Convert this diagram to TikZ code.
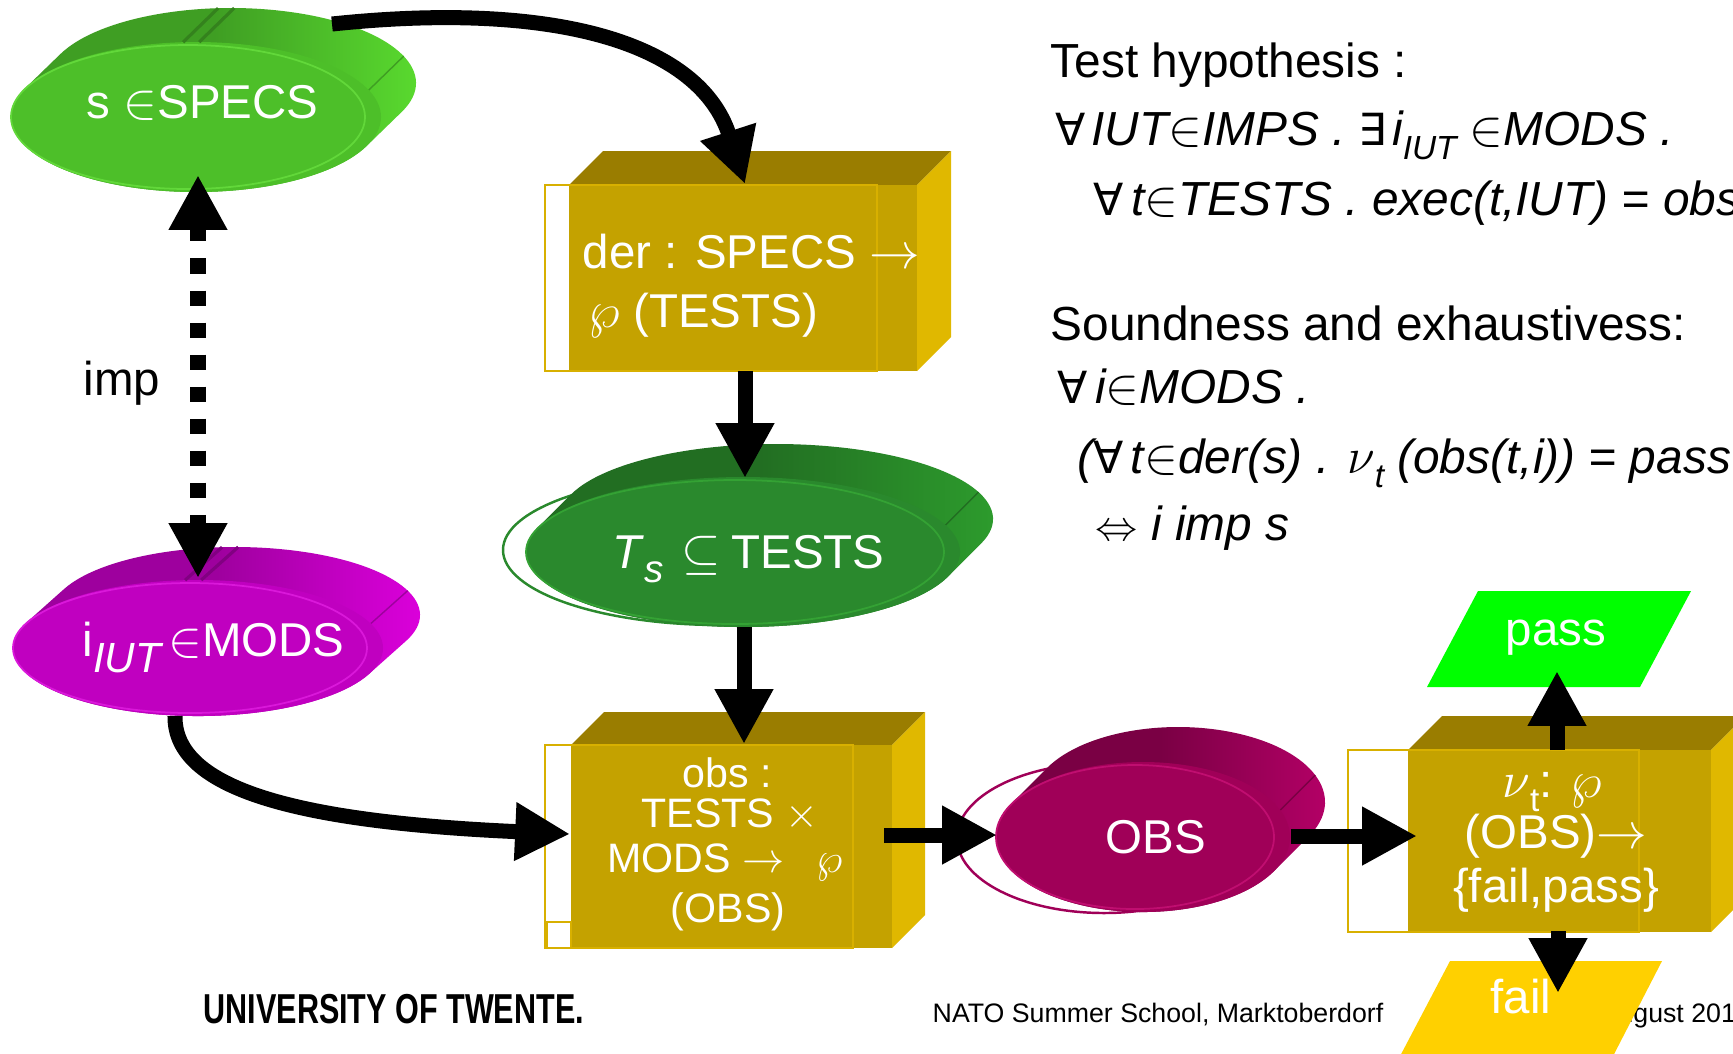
\documentclass[tikz,border=0pt]{standalone}
\usepackage{fontspec}
\setmainfont{Liberation Sans}
\newfontfamily\utfont[FakeStretch=0.73]{Liberation Sans Bold}
\newfontfamily\quant{DejaVu Sans}
\usetikzlibrary{arrows.meta}

% colours of the extruded ellipses: F front, D/L side shading, R rim line
\definecolor{specsF}{RGB}{77,191,41}
\definecolor{specsD}{RGB}{63,158,35}
\definecolor{specsL}{RGB}{92,224,48}
\definecolor{specsR}{RGB}{98,216,58}
\definecolor{testsF}{RGB}{42,137,45}
\definecolor{testsD}{RGB}{34,110,34}
\definecolor{testsL}{RGB}{46,160,46}
\definecolor{testsR}{RGB}{52,162,52}
\definecolor{modsF}{RGB}{192,0,192}
\definecolor{modsD}{RGB}{158,0,158}
\definecolor{modsL}{RGB}{226,0,226}
\definecolor{modsR}{RGB}{218,24,218}
\definecolor{obsF}{RGB}{160,0,88}
\definecolor{obsD}{RGB}{122,0,68}
\definecolor{obsL}{RGB}{186,0,106}
\definecolor{obsR}{RGB}{192,14,112}
% gold boxes
\definecolor{boxFront}{RGB}{196,162,0}
\definecolor{boxTop}{RGB}{154,125,0}
\definecolor{boxSide}{RGB}{224,184,0}
\definecolor{boxRule}{RGB}{216,176,0}
\definecolor{passGreen}{RGB}{0,255,0}
\definecolor{failYellow}{RGB}{255,208,0}

% lowered subscript in text fonts
\newcommand{\lowsub}[2][0.3em]{\raisebox{-#1}{\fontsize{9.5pt}{10pt}\selectfont #2}}
% quantifiers set in a sans face
\newcommand{\All}{{\quant\fontsize{12.6pt}{14pt}\selectfont ∀}}
\newcommand{\Ex}{{\quant\fontsize{12.6pt}{14pt}\selectfont ∃}}

% extruded ellipse: centre x, centre y, rx, ry, depth dx, depth dy, colour prefix
\newcommand{\ExtEllipse}[7]{%
  \pgfmathsetmacro\eTh{atan2((#4)*(#5),-(#3)*(#6))}%
  \pgfmathsetmacro\ePx{#1+(#3)*cos(\eTh)}%
  \pgfmathsetmacro\ePy{#2+(#4)*sin(\eTh)}%
  \path[left color=#7D, right color=#7L, middle color=#7D]
    (\ePx,\ePy) arc[start angle=\eTh, delta angle=180, x radius=#3, y radius=#4]
    -- ++(#5,#6) arc[start angle=\eTh+180, delta angle=180, x radius=#3, y radius=#4] -- cycle;
  \pgfmathsetmacro\sAx{#1+(#3)*cos(339)}%
  \pgfmathsetmacro\sAy{#2+(#4)*sin(339)}%
  \draw[#7D, line width=0.4pt] (\sAx,\sAy) -- ++(#5,#6);
  \fill[#7F] (#1,#2) ellipse[x radius=#3, y radius=#4];
  \draw[#7R, line width=0.5pt] ({#1-8},#2) ellipse[x radius={#3-8}, y radius={#4-3}];
}

% seam lines on top of an extruded ellipse
\newcommand{\TopSeams}[7]{%
  \foreach \ang in {266,271}{%
    \pgfmathsetmacro\sAx{#1+(#3)*cos(\ang)}%
    \pgfmathsetmacro\sAy{#2+(#4)*sin(\ang)}%
    \draw[#7D!82!black, line width=0.9pt] (\sAx,\sAy) -- ++(#5,#6);
  }%
}

% gold box: front x1 y1 x2 y2, depth
\newcommand{\GoldBox}[5]{%
  \fill[boxTop] (#1,#2) -- ({#1+#5},{#2-#5}) -- ({#3+#5},{#2-#5}) -- (#3,#2) -- cycle;
  \fill[boxSide] (#3,#2) -- ({#3+#5},{#2-#5}) -- ({#3+#5},{#4-#5}) -- (#3,#4) -- cycle;
  \fill[boxFront] (#1,#2) rectangle (#3,#4);
}

\tikzset{
  lbl/.style={text=white, inner sep=0pt, font=\fontsize{13.5pt}{16pt}\selectfont},
  small lbl/.style={text=white, inner sep=0pt, font=\fontsize{11.7pt}{14pt}\selectfont},
  hyp/.style={anchor=base west, inner sep=0pt, font=\fontsize{13.6pt}{16pt}\selectfont},
  flow/.style={line width=4.27pt, -{Triangle[length=15.6pt,width=15.6pt]}},
  strip/.style={draw=boxRule, line width=0.8pt},
}

\begin{document}
\begin{tikzpicture}[x=0.01cm, y=-0.01cm]
\useasboundingbox (0,0) rectangle (1733,1053);
\clip (0,0) rectangle (1733,1053);
\fill[white] (0,0) rectangle (1733,1053);

% footer
\node[anchor=base west, inner sep=0pt, font=\utfont\fontsize{11.9pt}{13pt}\selectfont] (ut) at (203,1023) {UNIVERSITY OF TWENTE.};
\node[anchor=base west, inner sep=0pt, font=\fontsize{7.6pt}{9pt}\selectfont] (school) at (932,1022) {NATO Summer School, Marktoberdorf};
\node[anchor=base west, inner sep=0pt, font=\fontsize{7.6pt}{9pt}\selectfont] (date) at (1600,1022) {August 201};

% outline ellipses behind two of the discs
\draw[testsF, line width=0.7pt] (720,550) ellipse[x radius=217, y radius=75];
\draw[obsF, line width=0.7pt] (1104,838) ellipse[x radius=147, y radius=75];

% discs
\ExtEllipse{196}{117}{185}{75}{35}{-34}{specs}
\TopSeams{196}{117}{185}{75}{35}{-34}{specs}
\ExtEllipse{743}{552}{217}{75}{33}{-33}{tests}
\ExtEllipse{198}{648}{185}{68}{37}{-33}{mods}
\TopSeams{198}{648}{185}{68}{37}{-33}{mods}
\ExtEllipse{1143}{837}{147}{75}{35}{-35}{obs}

% boxes with their white side strips
\fill[white] (545,185) rectangle (877,371);
\GoldBox{569}{185}{917}{371}{34}
\draw[strip] (545,185) rectangle (877,371);

\fill[white] (545,745) rectangle (853,948);
\GoldBox{571}{745}{892}{948}{33}
\draw[strip] (545,745) rectangle (853,948);
\draw[strip] (547,922) rectangle (571,948);

\fill[white] (1348,750) rectangle (1639,932);
\GoldBox{1408}{750}{1711}{932}{34}
\draw[strip] (1348,750) rectangle (1639,932);

% verdicts
\fill[passGreen] (1478,591) -- (1691,591) -- (1640,687) -- (1427,687) -- cycle;
\fill[failYellow] (1450,961) -- (1662,961) -- (1611,1060) -- (1398,1060) -- cycle;

% connector end points
\coordinate (specsOut) at (332,24);
\coordinate (derIn) at (745,184);
\coordinate (derOut) at (745,371);
\coordinate (testsIn) at (745,478);
\coordinate (testsOut) at (744,627);
\coordinate (obsBoxIn) at (744,744);
\coordinate (impTop) at (198,175);
\coordinate (impBot) at (198,578);
\coordinate (modsOut) at (175,716);
\coordinate (obsBoxSide) at (570,834);
\coordinate (obsBoxOut) at (884,835);
\coordinate (obsIn) at (997,835);
\coordinate (obsOut) at (1291,836);
\coordinate (vtIn) at (1417,836);
\coordinate (vtTop) at (1557,750);
\coordinate (passIn) at (1557,671);
\coordinate (vtBot) at (1558,931);
\coordinate (failIn) at (1558,993);

% connectors
\draw[flow] (specsOut) .. controls (560,0) and (700,45) .. (derIn);
\draw[flow] (derOut) -- (testsIn);
\draw[flow] (testsOut) -- (obsBoxIn);
\draw[flow] (modsOut) .. controls (174,790) and (300,822) .. (obsBoxSide);
\draw[flow] (obsBoxOut) -- (obsIn);
\draw[flow] (obsOut) -- (vtIn);
\draw[flow] (vtTop) -- (passIn);
\draw[flow] (vtBot) -- (failIn);
\draw[line width=4.55pt, dash pattern=on 4.27pt off 4.84pt,
      {Triangle[length=15.6pt,width=15.6pt]}-{Triangle[length=15.6pt,width=15.6pt]}] (impTop) -- (impBot);
\node[anchor=base west, inner sep=0pt, font=\fontsize{13.5pt}{16pt}\selectfont] (impLbl) at (83,395) {imp};

% labels in the shapes
\node[lbl, anchor=base west] (specsLbl) at (86,118) {s $\in$SPECS};
\node[lbl, anchor=base west] (testsLbl) at (612,568) {\textit{T}\lowsub{\fontsize{11pt}{11pt}\selectfont\itshape s}\hspace{5pt}$\subseteq$\hspace{3pt}TESTS};
\node[lbl, anchor=base west] (modsLbl) at (82,656) {i\lowsub[0.34em]{\fontsize{12pt}{12pt}\selectfont\itshape IUT}\hspace{2pt}$\in$MODS};
\node[lbl, anchor=base] (obsLbl) at (1156,853) {OBS};
\node[lbl, anchor=base west] (derA) at (582,268) {der : SPECS $\rightarrow$};
\node[lbl, anchor=base west] (derB) at (588,327) {$\wp$ (TESTS)};
\node[small lbl, anchor=base] (obsA) at (727,787) {obs :};
\node[small lbl, anchor=base] (obsB) at (730,827) {TESTS $\times$};
\node[small lbl, anchor=base] (obsC) at (725,872) {MODS $\rightarrow$\hspace{9pt}$\wp$};
\node[small lbl, anchor=base] (obsD) at (728,922) {(OBS)};
\node[lbl, anchor=base] (vtA) at (1552,797) {$\nu$\lowsub{t}: $\wp$};
\node[lbl, anchor=base] (vtB) at (1556,848) {(OBS)$\rightarrow$};
\node[lbl, anchor=base] (vtC) at (1556,902) {\{fail,pass\}};
\node[lbl, anchor=base] (passLbl) at (1556,645) {pass};
\node[lbl, anchor=base] (failLbl) at (1521,1013) {fail};

% hypotheses
\node[hyp] (h1) at (1050,77) {Test hypothesis :};
\node[hyp] (h2) at (1055,145) {\itshape \All\hspace{1.5pt}IUT$\in$IMPS . \Ex\hspace{1.5pt}i\lowsub{\itshape IUT} $\in$MODS .};
\node[hyp] (h3) at (1093,215) {\itshape \All\hspace{2pt}t$\in$TESTS . exec(t,IUT) = obs};
\node[hyp] (h4) at (1050,340) {Soundness and exhaustivess:};
\node[hyp] (h5) at (1057,403) {\itshape \All\hspace{2pt}i$\in$MODS .};
\node[hyp] (h6) at (1077,473) {\itshape (\All\hspace{2pt}t$\in$der(s) . $\nu$\lowsub{\itshape t} (obs(t,i)) = pass};
\node[hyp] (h7) at (1095,540) {\itshape {\fontsize{11.5pt}{12pt}\selectfont$\Leftrightarrow$} i imp s};
\end{tikzpicture}
\end{document}
